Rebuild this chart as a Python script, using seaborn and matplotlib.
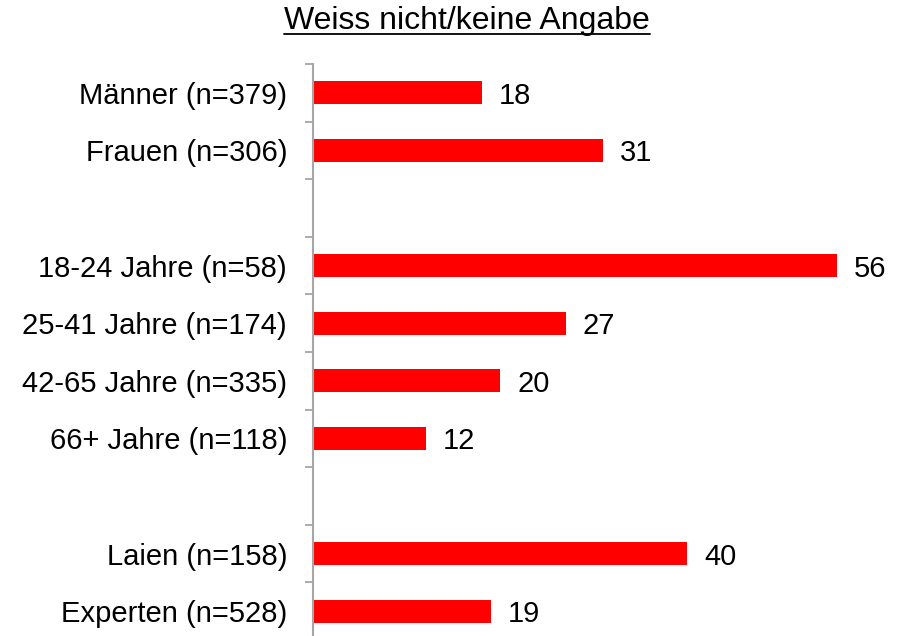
import matplotlib
matplotlib.use("Agg")
import matplotlib.pyplot as plt
import seaborn as sns
import pandas as pd
import numpy as np
from matplotlib.lines import Line2D

categories = ["Männer (n=379)", "Frauen (n=306)",
              "18-24 Jahre (n=58)", "25-41 Jahre (n=174)", "42-65 Jahre (n=335)", "66+ Jahre (n=118)",
              "Laien (n=158)", "Experten (n=528)"]
values = [18, 31, 56, 27, 20, 12, 40, 19]
order = ["Männer (n=379)", "Frauen (n=306)", " ",
         "18-24 Jahre (n=58)", "25-41 Jahre (n=174)", "42-65 Jahre (n=335)", "66+ Jahre (n=118)", "  ",
         "Laien (n=158)", "Experten (n=528)"]
title = "Weiss nicht/keine Angabe"

sns.set_style("white")
plt.rcParams['font.family'] = ['Liberation Sans', 'DejaVu Sans']

W, H = 902, 636
fig = plt.figure(figsize=(W / 100, H / 100), dpi=100)
left_px, right_px, top_px, bot_px = 313.4, 880, 64, 640
ax = fig.add_axes([left_px / W, 1 - bot_px / H, (right_px - left_px) / W, (bot_px - top_px) / H])

df = pd.DataFrame({"cat": categories, "val": values})
sns.barplot(data=df, y="cat", x="val", order=order, color="#FF0000", width=0.4,
            saturation=1, ax=ax, orient="h", linewidth=0)

ax.set_xlim(0, (right_px - left_px) / 9.35)
ax.set_ylim(len(order) - 0.5, -0.5)

for c in ax.containers:
    txts = ax.bar_label(c, labels=[f"{int(v)}" if not np.isnan(v) else "" for v in c.datavalues],
                        padding=12, fontsize=21, color="black")
    for tx in txts:
        tx.set_va("center_baseline")

# ticks at boundaries, labels at centers
ax.set_yticks(np.arange(-0.5, len(order) + 0.5, 1.0))
ax.set_yticklabels([])
ax.set_yticks(np.arange(len(order)), minor=True)
ax.set_yticklabels(order, minor=True, fontsize=21, color="black")
ax.tick_params(axis="y", which="major", length=6, width=1.3, color="#A6A6A6", direction="out", left=True)
ax.tick_params(axis="y", which="minor", length=0, pad=19, labelcolor="black")

for s in ["top", "right", "bottom"]:
    ax.spines[s].set_visible(False)
ax.spines["left"].set_color("#A6A6A6")
ax.spines["left"].set_linewidth(1.5)
ax.set_xticks([])
ax.set_xlabel("")
ax.set_ylabel("")

t = fig.text(467 / W, 1 - 21 / H, title, ha="center", va="center", fontsize=23, color="black")
fig.canvas.draw()
bb = t.get_window_extent()
y_line = 1 - 34 / H
fig.add_artist(Line2D([bb.x0 / W, bb.x1 / W], [y_line, y_line], color="black", lw=1.3,
                      transform=fig.transFigure))

fig.savefig("out.png", dpi=100)
